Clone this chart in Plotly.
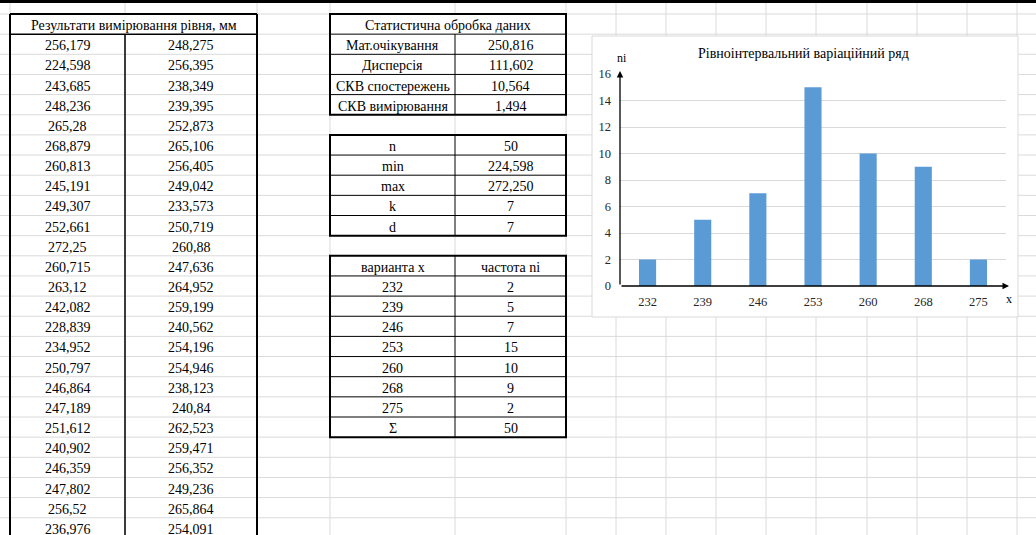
import plotly.graph_objects as go

W, H = 1036, 535

# ---------------- data ----------------
measure_col1 = [256.179, 224.598, 243.685, 248.236, 265.28, 268.879, 260.813, 245.191, 249.307,
                252.661, 272.25, 260.715, 263.12, 242.082, 228.839, 234.952, 250.797, 246.864,
                247.189, 251.612, 240.902, 246.359, 247.802, 256.52, 236.976]
measure_col2 = [248.275, 256.395, 238.349, 239.395, 252.873, 265.106, 256.405, 249.042, 233.573,
                250.719, 260.88, 247.636, 264.952, 259.199, 240.562, 254.196, 254.946, 238.123,
                240.84, 262.523, 259.471, 256.352, 249.236, 265.864, 254.091]
measure_title = "Результати вимірювання рівня, мм"

stats_title = "Статистична обробка даних"
stats_labels = ["Мат.очікування", "Дисперсія", "СКВ спостережень", "СКВ вимірювання"]
stats_values = [250.816, 111.602, 10.564, 1.494]

param_labels = ["n", "min", "max", "k", "d"]
param_values = ["50", "224,598", "272,250", "7", "7"]

variant_header = ["варианта x", "частота ni"]
variants = ["232", "239", "246", "253", "260", "268", "275"]
frequencies = [2, 5, 7, 15, 10, 9, 2]
sum_label = "Σ"

chart_title = "Рівноінтервальний варіаційний ряд"
y_ticks = [0, 2, 4, 6, 8, 10, 12, 14, 16]

# ---------------- geometry helpers ----------------
def px(x):
    return x / W

def py(y):
    return 1 - y / H

ROW0, RH = 14.0, 20.15
def ry(k):
    return ROW0 + RH * k

col_lines = [10, 125, 257, 330, 455, 566, 616, 666, 716, 766, 816, 867, 917, 967, 1017]
GRID = "#DADADA"
FONT = "Liberation Serif"

shapes = []
annotations = []

def line(x0, y0, x1, y1, color, width, layer="below"):
    shapes.append(dict(type="line", xref="paper", yref="paper",
                       x0=px(x0), y0=py(y0), x1=px(x1), y1=py(y1),
                       line=dict(color=color, width=width), layer=layer))

def rect(x0, y0, x1, y1, color, width, fill="rgba(0,0,0,0)", layer="below"):
    shapes.append(dict(type="rect", xref="paper", yref="paper",
                       x0=px(x0), y0=py(y0), x1=px(x1), y1=py(y1),
                       line=dict(color=color, width=width), fillcolor=fill, layer=layer))

def text(x, y, s, size=14, anchor="center"):
    annotations.append(dict(xref="paper", yref="paper", x=px(x), y=py(y), text=s,
                            showarrow=False, xanchor=anchor, yanchor="middle",
                            font=dict(family=FONT, size=size, color="black")))

# spreadsheet grid
for x in col_lines:
    line(x, 3, x, H, GRID, 1)
for k in range(-1, 27):
    yy = ry(k)
    if 3 < yy < H:
        line(0, yy, W, yy, GRID, 1)

# top dark band
rect(0, -2, W, 3, "black", 0, fill="black")

# ---------------- left table ----------------
LX0, LXM, LX1 = 10, 125, 257
rect(LX0, ry(0), LX1, ry(1), "black", 0, fill="white")
line(LX0, ry(1), LX1, ry(1), "black", 1.5)
line(LXM, ry(1), LXM, H + 5, "black", 1.5)
line(LX0, ry(0), LX0, H + 5, "black", 2)
line(LX1, ry(0), LX1, H + 5, "black", 2)
line(LX0, ry(0), LX1, ry(0), "black", 2)
text((LX0 + LX1) / 2, (ry(0) + ry(1)) / 2 + 1, measure_title)

def fmt(v):
    return str(v).replace(".", ",")

for i, (a, b) in enumerate(zip(measure_col1, measure_col2)):
    yc = (ry(i + 1) + ry(i + 2)) / 2 + 1.5
    text((LX0 + LXM) / 2, yc, fmt(a))
    text((LXM + LX1) / 2, yc, fmt(b))

# ---------------- right tables ----------------
RX0, RXM, RX1 = 330, 455, 566

def boxed_table(k0, nrows, merged_first=False):
    y0, y1 = ry(k0), ry(k0 + nrows)
    rect(RX0, y0, RX1, y1, "black", 0, fill="white")
    for j in range(1, nrows):
        line(RX0, ry(k0 + j), RX1, ry(k0 + j), "black", 1)
    ys = ry(k0 + 1) if merged_first else y0
    line(RXM, ys, RXM, y1, "black", 1)
    rect(RX0, y0, RX1, y1, "black", 2)

def row_text(k, left, right):
    yc = (ry(k) + ry(k + 1)) / 2 + 1.5
    text((RX0 + RXM) / 2, yc, left)
    text((RXM + RX1) / 2, yc, right)

boxed_table(0, 5, merged_first=True)
text((RX0 + RX1) / 2, (ry(0) + ry(1)) / 2 + 1.5, stats_title)
for i, (lab, v) in enumerate(zip(stats_labels, stats_values)):
    row_text(1 + i, lab, f"{v:.3f}".replace(".", ","))

boxed_table(6, 5)
for i, (lab, v) in enumerate(zip(param_labels, param_values)):
    row_text(6 + i, lab, v)

boxed_table(12, 9)
row_text(12, variant_header[0], variant_header[1])
for i, (v, f) in enumerate(zip(variants, frequencies)):
    row_text(13 + i, v, str(f))
row_text(20, sum_label, str(sum(frequencies)))

# ---------------- chart ----------------
CX0, CY0, CX1, CY1 = 592, 36, 1018, 317
rect(CX0, CY0, CX1, CY1, "#D9D9D9", 1, fill="white")

PX0, PX1 = 620, 1006
PY0, PY1 = 74, 286  # top (16), bottom (0)

fig = go.Figure(go.Bar(x=variants, y=frequencies, marker=dict(color="#5B9BD5", line=dict(width=0)),
                       width=0.31, hoverinfo="skip"))

text((PX0 + PX1) / 2 - 10, 54, chart_title, size=14)
text(622, 58, "ni", size=12)
text(1009, 299, "x", size=12)

# axis arrows
annotations.append(dict(xref="paper", yref="paper", x=px(PX0), y=py(PY0 - 3), ax=0, ay=PY1 - PY0 + 3,
                        axref="pixel", ayref="pixel", text="", showarrow=True, arrowhead=2,
                        arrowsize=1, arrowwidth=1.3, arrowcolor="black"))
annotations.append(dict(xref="paper", yref="paper", x=px(PX1 + 3), y=py(PY1), ax=-(PX1 + 3 - PX0), ay=0,
                        axref="pixel", ayref="pixel", text="", showarrow=True, arrowhead=2,
                        arrowsize=1, arrowwidth=1.3, arrowcolor="black"))

fig.update_layout(
    width=W, height=H,
    margin=dict(l=0, r=0, t=0, b=0),
    paper_bgcolor="white", plot_bgcolor="rgba(0,0,0,0)",
    showlegend=False,
    shapes=shapes, annotations=annotations,
    xaxis=dict(domain=[px(PX0), px(PX1)], type="category", categoryorder="array",
               categoryarray=variants, showgrid=False, zeroline=False, showline=False,
               ticks="", ticklabelstandoff=6, automargin=False,
               tickfont=dict(family=FONT, size=12.5, color="#262626")),
    yaxis=dict(domain=[py(PY1), py(PY0)], range=[0, 16], tickvals=y_ticks,
               showgrid=True, gridcolor="#D9D9D9", gridwidth=1, zeroline=False, showline=False,
               ticks="", ticklabelstandoff=8, automargin=False,
               tickfont=dict(family=FONT, size=12.5, color="#262626")),
)

fig.write_html("out.html", config={"displayModeBar": False, "staticPlot": True},
               post_script="document.body.style.margin='0';document.body.style.overflow='hidden';")
